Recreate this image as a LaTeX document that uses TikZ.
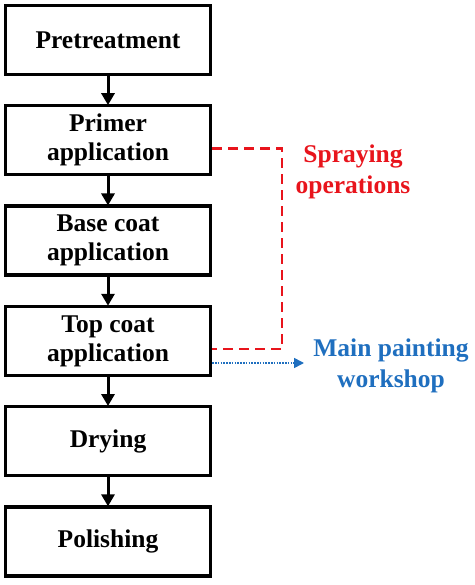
\documentclass[tikz,border=0pt]{standalone}
\usepackage{fontspec}
\setmainfont{Liberation Serif}
\usepackage{tikz}
\usetikzlibrary{arrows.meta,positioning,calc}
\usepackage{xcolor}
\definecolor{Ink}{HTML}{000000}
\definecolor{SprayRed}{HTML}{E8141C}
\definecolor{ShopBlue}{HTML}{1F6FBF}
\tikzset{
 stepbox/.style={draw=Ink, line width=3.3pt, fill=white, minimum width=205pt, minimum height=69pt, align=center, inner sep=2pt, font=\fontsize{25.5}{29}\selectfont\bfseries},
 flowarrow/.style={-{Triangle[length=12pt,width=13pt]}, line width=3pt, draw=Ink, shorten >=-1pt},
 sprayline/.style={draw=SprayRed, line width=2.6pt, dash pattern=on 10pt off 6pt},
 shopline/.style={-{Triangle[length=10pt,width=10pt]}, draw=ShopBlue, line width=1.6pt, dash pattern=on 1.6pt off 1.2pt},
 tag/.style={align=center, font=\fontsize{25.5}{31}\selectfont\bfseries}
}
\begin{document}
\begin{tikzpicture}[x=1pt,y=1pt,node distance=28pt]
\useasboundingbox (0,0) rectangle (474,-585);
% process steps
\node[stepbox] (pre) at (108,-40) {Pretreatment};
\node[stepbox, below=of pre] (primer) {Primer\\application};
\node[stepbox, below=of primer] (base) {Base coat\\application};
\node[stepbox, below=of base] (top) {Top coat\\application};
\node[stepbox, below=of top] (dry) {Drying};
\node[stepbox, below=of dry] (polish) {Polishing};
\foreach \a/\b in {pre/primer, primer/base, base/top, top/dry, dry/polish}
  \draw[flowarrow] (\a) -- (\b);
% spraying bracket
\draw[sprayline] ([yshift=-8pt]primer.east) -- ++(70,0) |- ([yshift=-8pt]top.east);
\node[tag, text=SprayRed] (spray) at (353,-172) {Spraying\\operations};
% main workshop
\coordinate (ws) at (304,-363);
\draw[shopline] (top.east |- ws) -- (ws);
\node[tag, text=ShopBlue] (shop) at (391,-366) {Main painting\\workshop};
\end{tikzpicture}
\end{document}
